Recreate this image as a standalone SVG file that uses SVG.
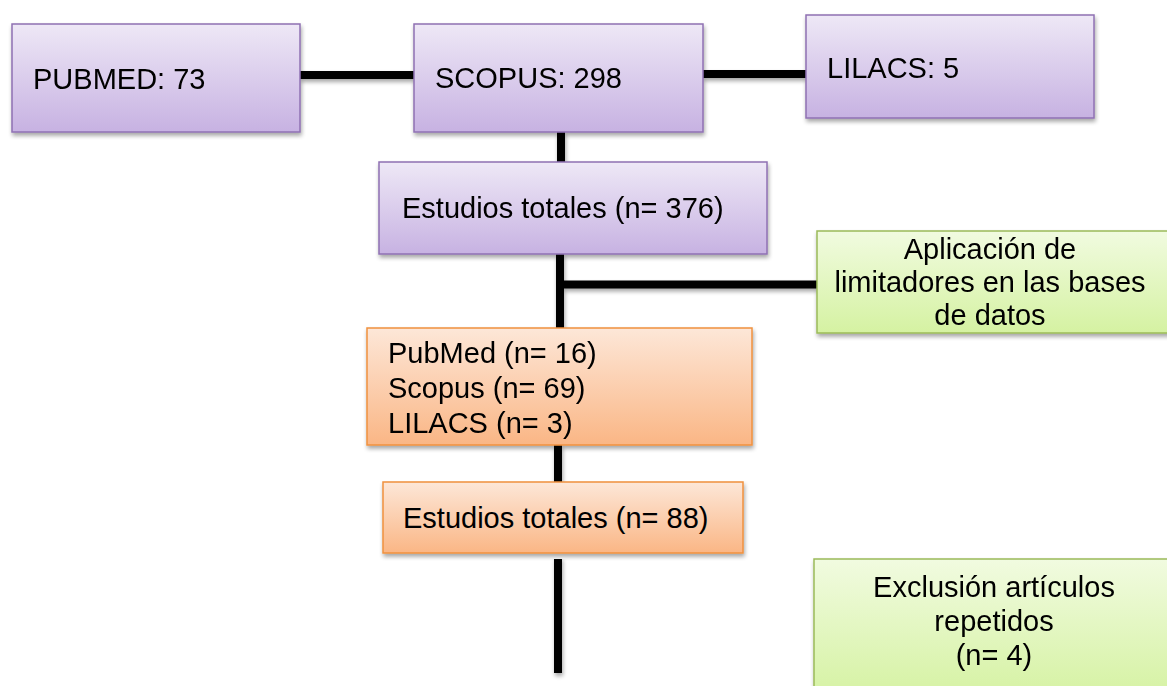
<svg xmlns="http://www.w3.org/2000/svg" width="1167" height="686" viewBox="0 0 1167 686">
<defs>
<linearGradient id="gPurple" x1="0" y1="0" x2="0" y2="1">
<stop offset="0" stop-color="#eee8f6"/>
<stop offset="1" stop-color="#c7b2e2"/>
</linearGradient>
<linearGradient id="gOrange" x1="0" y1="0" x2="0" y2="1">
<stop offset="0" stop-color="#fde7d8"/>
<stop offset="1" stop-color="#fab685"/>
</linearGradient>
<linearGradient id="gGreen" x1="0" y1="0" x2="0" y2="1">
<stop offset="0" stop-color="#f1fbe0"/>
<stop offset="1" stop-color="#d5f2a2"/>
</linearGradient>
<filter id="shadow" x="-5%" y="-5%" width="110%" height="120%">
<feGaussianBlur in="SourceAlpha" stdDeviation="2"/>
<feOffset dx="1" dy="3" result="b"/>
<feComponentTransfer><feFuncA type="linear" slope="0.35"/></feComponentTransfer>
<feMerge><feMergeNode/><feMergeNode in="SourceGraphic"/></feMerge>
</filter>
</defs>
<style>
.txt{font-family:"Liberation Sans",Arial,sans-serif;font-size:29px;fill:#000}
.mid{text-anchor:middle}
.purple{fill:url(#gPurple);stroke:#8f70b3;stroke-width:1.5}
.orange{fill:url(#gOrange);stroke:#f0913f;stroke-width:1.5}
.green{fill:url(#gGreen);stroke:#9bbb59;stroke-width:1.5}
.conn{stroke:#000;stroke-width:8;fill:none}
</style>
<rect width="1167" height="686" fill="#fff"/>
<g id="connectors" filter="url(#shadow)">
<line class="conn" x1="300" y1="75" x2="414" y2="75"/>
<line class="conn" x1="703" y1="74" x2="806" y2="74"/>
<line class="conn" x1="561" y1="132" x2="561" y2="162"/>
<line class="conn" x1="560" y1="254" x2="560" y2="328"/>
<line class="conn" x1="556" y1="284.5" x2="817" y2="284.5"/>
<line class="conn" x1="558" y1="445" x2="558" y2="482"/>
<line class="conn" x1="558" y1="557" x2="558" y2="673"/>
</g>
<g id="pubmed" filter="url(#shadow)">
<rect class="purple" x="12" y="24" width="288" height="108"/>
<text class="txt" x="33" y="89">PUBMED: 73</text>
</g>
<g id="scopus" filter="url(#shadow)">
<rect class="purple" x="414" y="24" width="289" height="108"/>
<text class="txt" x="435" y="88">SCOPUS: 298</text>
</g>
<g id="lilacs" filter="url(#shadow)">
<rect class="purple" x="806" y="15" width="288" height="103"/>
<text class="txt" x="827" y="78">LILACS: 5</text>
</g>
<g id="totales376" filter="url(#shadow)">
<rect class="purple" x="379" y="162" width="388" height="92"/>
<text class="txt" x="402" y="218">Estudios totales (n= 376)</text>
</g>
<g id="limitadores" filter="url(#shadow)">
<rect class="green" x="817" y="231" width="360" height="102"/>
<text class="txt mid" x="990" y="259">Aplicación de</text>
<text class="txt mid" x="990" y="292">limitadores en las bases</text>
<text class="txt mid" x="990" y="325">de datos</text>
</g>
<g id="bases" filter="url(#shadow)">
<rect class="orange" x="367" y="328" width="385" height="117"/>
<text class="txt" x="388" y="363">PubMed (n= 16)</text>
<text class="txt" x="388" y="398">Scopus (n= 69)</text>
<text class="txt" x="388" y="433">LILACS (n= 3)</text>
</g>
<g id="totales88">
<rect x="391" y="553" width="348" height="6" fill="#fff"/>
<rect class="orange" x="383" y="482" width="360" height="71" filter="url(#shadow)"/>
<text class="txt" x="403" y="528">Estudios totales (n= 88)</text>
</g>
<g id="exclusion" filter="url(#shadow)">
<rect class="green" x="814" y="559" width="360" height="140"/>
<text class="txt mid" x="994" y="597">Exclusión artículos</text>
<text class="txt mid" x="994" y="631">repetidos</text>
<text class="txt mid" x="994" y="665">(n= 4)</text>
</g>
</svg>
